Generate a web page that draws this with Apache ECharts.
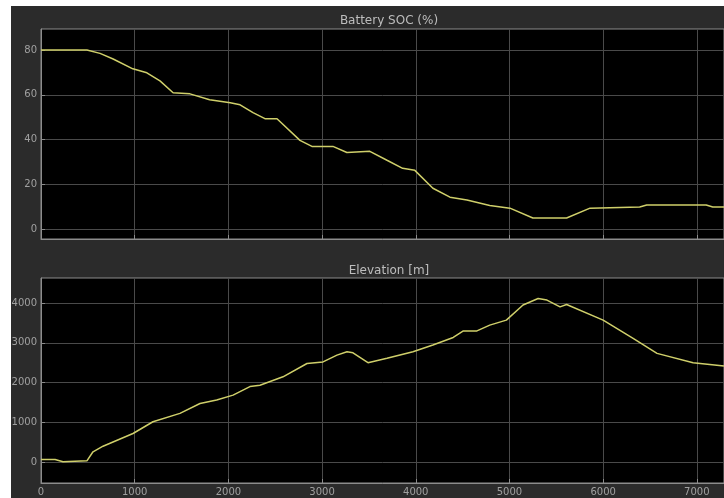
<!DOCTYPE html>
<html>
<head>
<meta charset="utf-8">
<script src="https://cdn.jsdelivr.net/npm/echarts@6/dist/echarts.min.js"></script>
<style>
html,body{margin:0;padding:0;background:#fff;width:724px;height:498px;overflow:hidden;}
#c{position:absolute;left:11px;top:6px;width:713px;height:492px;background:#2b2b2b;}
</style>
</head>
<body>
<div id="c"></div>
<script>
// Battery SOC (%) vs distance
const socX = [0,490,630,770,980,1130,1270,1410,1590,1800,2020,2125,2263,2390,2519,2764,2892,3116,3265,3510,3693,3860,3990,4183,4365,4546,4790,5005,5250,5610,5860,6390,6465,7100,7170,7290];
const socY = [80,80,78.5,76,71.6,69.8,66.2,60.9,60.4,57.8,56.4,55.5,52,49.3,49.3,39.6,36.9,36.9,34.2,34.7,30.7,27.1,26.2,18.2,14.2,12.9,10.5,9.3,4.9,4.9,9.3,9.8,10.7,10.7,9.8,9.8];
// Elevation [m] vs distance
const elevX = [0,150,235,490,555,662,982,1195,1483,1697,1875,2050,2230,2337,2583,2839,3010,3159,3266,3330,3490,3693,3970,4183,4400,4504,4653,4790,4967,5145,5306,5400,5540,5610,6000,6320,6575,6960,7290];
const elevY = [68,68,8,33,260,400,720,1015,1225,1475,1560,1685,1900,1935,2145,2480,2520,2690,2775,2750,2500,2610,2775,2945,3135,3295,3300,3445,3570,3950,4115,4075,3905,3965,3570,3110,2735,2500,2415];
const xTicks = [0,1000,2000,3000,4000,5000,6000,7000];
const socTicks = [0,20,40,60,80];
const elevTicks = [0,1000,2000,3000,4000];

const frame = '#8c8c8c', grid = '#4a4a4a', txt = '#a0a0a0';
const chart = echarts.init(document.getElementById('c'), null, {renderer:'canvas'});
const fmt = v => String(v);
function xa(idx, labels){
  return {type:'value', gridIndex:idx, min:0, max:7290,
    axisLine:{show:true,onZero:false,lineStyle:{color:frame,width:1}},
    axisTick:{show:true,inside:true,length:4,customValues:xTicks,lineStyle:{color:frame}},
    axisLabel:{show:labels,customValues:xTicks,formatter:fmt,color:txt,fontSize:10,margin:4,fontFamily:'DejaVu Sans'},
    splitLine:{show:true,lineStyle:{color:grid,width:1}}};
}
function ya(idx, min, max, ticks){
  return {type:'value', gridIndex:idx, min:min, max:max,
    axisLine:{show:true,onZero:false,lineStyle:{color:frame,width:1}},
    axisTick:{show:true,inside:true,length:4,customValues:ticks,lineStyle:{color:frame}},
    axisLabel:{show:true,customValues:ticks,formatter:fmt,color:txt,fontSize:10,margin:4,fontFamily:'DejaVu Sans'},
    splitLine:{show:true,lineStyle:{color:grid,width:1}}};
}
chart.setOption({
  backgroundColor:'#2b2b2b',
  animation:false,
  title:[
    {text:'Battery SOC (%)', left:373, top:4, textAlign:'center',
     textStyle:{color:'#bdbdbd',fontSize:12,fontWeight:'normal',fontFamily:'DejaVu Sans'}},
    {text:'Elevation [m]', left:373, top:254, textAlign:'center',
     textStyle:{color:'#bdbdbd',fontSize:12,fontWeight:'normal',fontFamily:'DejaVu Sans'}}
  ],
  grid:[
    {left:30, top:23, right:0, height:210, show:true, backgroundColor:'#000', borderColor:frame, borderWidth:1, outerBoundsMode:'none', containLabel:false},
    {left:30, top:272, right:0, height:205, show:true, backgroundColor:'#000', borderColor:frame, borderWidth:1, outerBoundsMode:'none', containLabel:false}
  ],
  xAxis:[xa(0,false), xa(1,true)],
  yAxis:[ya(0,-4.5,89.4,socTicks), ya(1,-525,4630,elevTicks)],
  series:[
    {type:'line', xAxisIndex:0, yAxisIndex:0, showSymbol:false, data:socX.map((x,i)=>[x,socY[i]]),
     lineStyle:{color:'#cfcf6a',width:1.5}},
    {type:'line', xAxisIndex:1, yAxisIndex:1, showSymbol:false, data:elevX.map((x,i)=>[x,elevY[i]]),
     lineStyle:{color:'#cfcf6a',width:1.5}}
  ]
});
</script>
</body>
</html>
